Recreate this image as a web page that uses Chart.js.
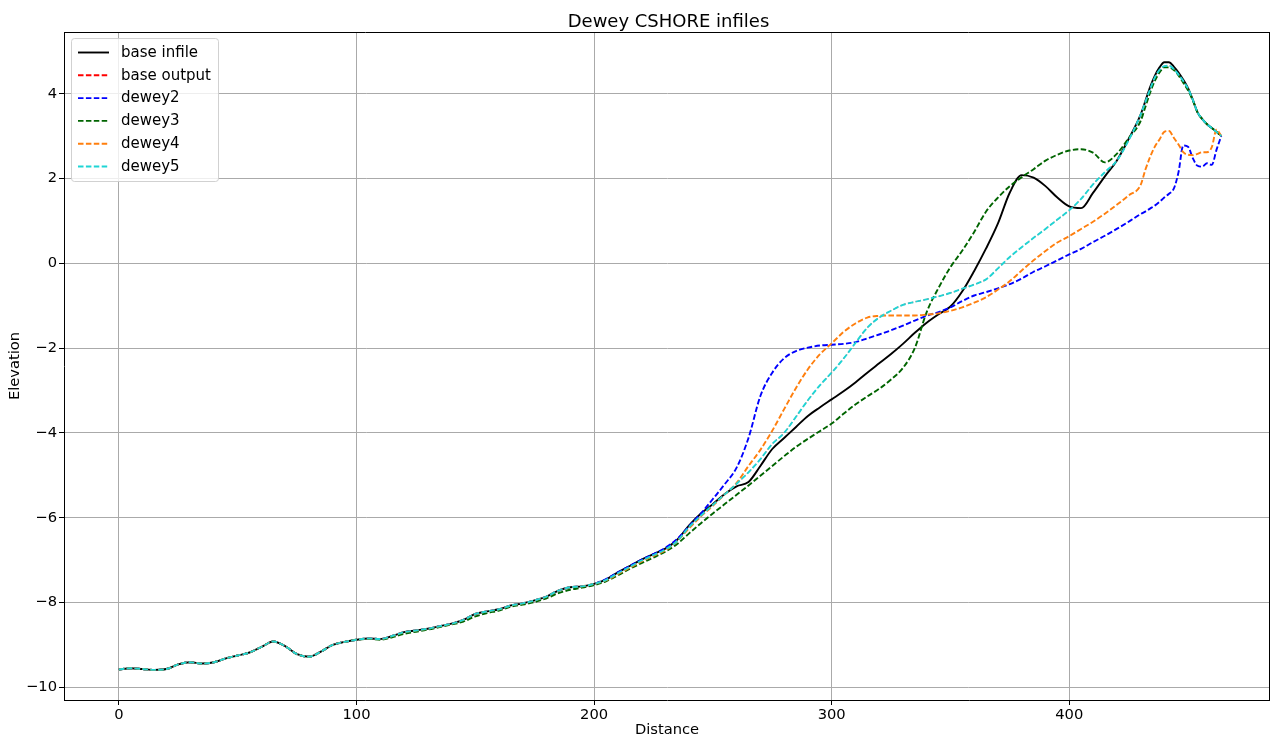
<!DOCTYPE html>
<html>
<head>
<meta charset="utf-8">
<title>Dewey CSHORE infiles</title>
<script src="https://cdn.jsdelivr.net/npm/chart.js@4.4.1/dist/chart.umd.min.js"></script>
<style>
  html, body { margin: 0; padding: 0; background: #ffffff; }
  canvas { display: block; }
</style>
</head>
<body>
<canvas id="profile" width="1270" height="739"></canvas>
<script>
// Cross-shore distance of each profile station
const distance = [
  0, 5, 10, 15, 20, 25, 30, 35, 40, 45, 50, 55, 60, 65, 70, 75, 80, 85, 90, 95,
  100, 105, 110, 115, 120, 125, 130, 135, 140, 145, 150, 155, 160, 165, 170, 175, 180, 185, 190, 195,
  200, 205, 210, 215, 220, 225, 230, 235, 240, 245, 250, 255, 260, 265, 270, 275, 280, 285, 290, 295,
  300, 305, 310, 315, 320, 325, 330, 335, 340, 345, 350, 355, 360, 365, 370, 375, 380, 385, 390, 395,
  400, 405, 410, 415, 420, 425, 430,
  432, 434, 436, 438, 440, 442, 444, 446, 448, 450, 452, 454, 456, 458, 460, 462, 464
];

// Elevations at each station
const baseInfile = [
  -9.58, -9.55, -9.57, -9.59, -9.57, -9.46, -9.41, -9.44, -9.41, -9.32, -9.25, -9.18, -9.05, -8.92, -9.03, -9.22, -9.28, -9.16, -9.00, -8.93,
  -8.88, -8.85, -8.86, -8.79, -8.70, -8.66, -8.62, -8.56, -8.50, -8.41, -8.27, -8.21, -8.16, -8.07, -8.02, -7.95, -7.86, -7.72, -7.64, -7.62,
  -7.56, -7.46, -7.29, -7.14, -6.99, -6.86, -6.73, -6.52, -6.18, -5.90, -5.68, -5.44, -5.26, -5.16, -4.78, -4.38, -4.12, -3.86, -3.60, -3.40,
  -3.21, -3.02, -2.81, -2.58, -2.36, -2.14, -1.90, -1.64, -1.40, -1.20, -1.02, -0.66, -0.18, 0.35, 0.94, 1.67, 2.08, 2.02, 1.82, 1.55,
  1.34, 1.30, 1.66, 2.05, 2.42, 2.93, 3.50,
  3.82, 4.15, 4.42, 4.62, 4.74, 4.74, 4.64, 4.50, 4.33, 4.13, 3.86, 3.56, 3.40, 3.28, 3.19, 3.10, 3.00
];

const dewey2 = [
  -9.58, -9.55, -9.57, -9.59, -9.57, -9.46, -9.41, -9.44, -9.41, -9.32, -9.25, -9.18, -9.05, -8.92, -9.03, -9.22, -9.28, -9.16, -9.00, -8.93,
  -8.88, -8.85, -8.86, -8.79, -8.70, -8.66, -8.62, -8.56, -8.50, -8.41, -8.27, -8.21, -8.16, -8.07, -8.02, -7.95, -7.86, -7.72, -7.64, -7.62,
  -7.56, -7.45, -7.29, -7.14, -6.99, -6.86, -6.71, -6.50, -6.20, -5.90, -5.56, -5.21, -4.82, -4.12, -3.13, -2.58, -2.24, -2.07, -1.99, -1.94,
  -1.92, -1.90, -1.86, -1.77, -1.68, -1.58, -1.47, -1.35, -1.24, -1.15, -1.04, -0.89, -0.76, -0.68, -0.59, -0.49, -0.36, -0.20, -0.07, 0.07,
  0.21, 0.34, 0.50, 0.65, 0.81, 0.98, 1.16,
  1.22, 1.29, 1.36, 1.45, 1.55, 1.64, 1.76, 2.15, 2.78, 2.75, 2.48, 2.30, 2.28, 2.36, 2.32, 2.68, 3.00
];

const dewey3 = [
  -9.58, -9.55, -9.57, -9.59, -9.57, -9.46, -9.41, -9.44, -9.41, -9.32, -9.25, -9.18, -9.05, -8.92, -9.03, -9.22, -9.28, -9.16, -9.00, -8.93,
  -8.88, -8.86, -8.88, -8.82, -8.74, -8.69, -8.64, -8.58, -8.52, -8.45, -8.33, -8.25, -8.19, -8.10, -8.05, -7.99, -7.90, -7.78, -7.70, -7.65,
  -7.59, -7.50, -7.36, -7.21, -7.07, -6.94, -6.80, -6.62, -6.37, -6.13, -5.90, -5.68, -5.46, -5.24, -5.01, -4.78, -4.55, -4.33, -4.14, -3.96,
  -3.78, -3.55, -3.33, -3.14, -2.96, -2.74, -2.47, -2.00, -1.15, -0.58, -0.09, 0.30, 0.74, 1.22, 1.55, 1.82, 2.03, 2.22, 2.42, 2.56,
  2.66, 2.69, 2.61, 2.38, 2.58, 2.95, 3.35,
  3.68, 4.02, 4.30, 4.50, 4.62, 4.62, 4.56, 4.43, 4.26, 4.08, 3.84, 3.56, 3.40, 3.28, 3.19, 3.10, 3.00
];

const dewey4 = [
  -9.58, -9.55, -9.57, -9.59, -9.57, -9.46, -9.41, -9.44, -9.41, -9.32, -9.25, -9.18, -9.05, -8.92, -9.03, -9.22, -9.28, -9.16, -9.00, -8.93,
  -8.88, -8.85, -8.86, -8.79, -8.70, -8.66, -8.62, -8.56, -8.50, -8.41, -8.27, -8.21, -8.16, -8.07, -8.02, -7.95, -7.86, -7.72, -7.64, -7.62,
  -7.56, -7.48, -7.33, -7.18, -7.03, -6.90, -6.77, -6.55, -6.25, -5.97, -5.72, -5.45, -5.18, -4.78, -4.40, -3.95, -3.44, -2.94, -2.50, -2.15,
  -1.89, -1.62, -1.42, -1.28, -1.24, -1.23, -1.23, -1.23, -1.21, -1.18, -1.12, -1.04, -0.93, -0.80, -0.62, -0.42, -0.17, 0.07, 0.29, 0.49,
  0.64, 0.81, 0.98, 1.17, 1.38, 1.60, 1.84,
  2.20, 2.50, 2.75, 2.92, 3.10, 3.12, 2.96, 2.80, 2.62, 2.56, 2.55, 2.58, 2.62, 2.62, 2.74, 3.15, 3.00
];

const dewey5 = [
  -9.58, -9.55, -9.57, -9.59, -9.57, -9.46, -9.41, -9.44, -9.41, -9.32, -9.25, -9.18, -9.05, -8.92, -9.03, -9.22, -9.28, -9.16, -9.00, -8.93,
  -8.88, -8.85, -8.86, -8.79, -8.70, -8.66, -8.62, -8.56, -8.50, -8.41, -8.27, -8.21, -8.16, -8.07, -8.02, -7.95, -7.86, -7.72, -7.64, -7.62,
  -7.56, -7.47, -7.31, -7.16, -7.01, -6.88, -6.75, -6.55, -6.22, -5.95, -5.70, -5.45, -5.20, -4.93, -4.62, -4.26, -4.00, -3.62, -3.23, -2.88,
  -2.58, -2.25, -1.88, -1.52, -1.28, -1.12, -0.98, -0.91, -0.85, -0.78, -0.70, -0.60, -0.50, -0.38, -0.12, 0.15, 0.38, 0.60, 0.81, 1.03,
  1.25, 1.52, 1.86, 2.15, 2.42, 2.90, 3.50,
  3.80, 4.10, 4.38, 4.56, 4.65, 4.66, 4.58, 4.45, 4.30, 4.12, 3.86, 3.56, 3.40, 3.28, 3.19, 3.10, 3.00
];

// The model output for the base case reproduces the dewey5 profile
const baseOutput = dewey5;

const xTickValues = [0, 100, 200, 300, 400];
const yTickValues = [-10, -8, -6, -4, -2, 0, 2, 4];

const FONT = "'DejaVu Sans', 'Liberation Sans', sans-serif";
const DASH = [5.5, 2.4];
const LINE_WIDTH = 1.9;

function points(ys) {
  return distance.map((d, i) => ({ x: d, y: ys[i] }));
}

function series(label, ys, color, dashed, order, width) {
  return {
    label: label,
    data: points(ys),
    borderColor: color,
    backgroundColor: color,
    borderWidth: width || LINE_WIDTH,
    borderDash: dashed ? DASH : [],
    pointRadius: 0,
    fill: false,
    cubicInterpolationMode: 'monotone',
    order: order
  };
}

function fmtTick(v) {
  return v < 0 ? '\u2212' + Math.abs(v) : String(v);
}

// Title, top/right frame edges and in-axes legend
const decorations = {
  id: 'decorations',
  afterDraw(chart) {
    const ctx = chart.ctx;
    const a = chart.chartArea;
    ctx.save();

    // frame top and right
    ctx.strokeStyle = '#000000';
    ctx.lineWidth = 1;
    ctx.beginPath();
    ctx.moveTo(a.left, Math.round(a.top) + 0.5);
    ctx.lineTo(a.right, Math.round(a.top) + 0.5);
    ctx.moveTo(Math.round(a.right) - 0.5, a.top);
    ctx.lineTo(Math.round(a.right) - 0.5, a.bottom);
    ctx.stroke();

    // title
    ctx.fillStyle = '#000000';
    ctx.font = '18px ' + FONT;
    ctx.textAlign = 'center';
    ctx.textBaseline = 'alphabetic';
    ctx.fillText('Dewey CSHORE infiles', (a.left + a.right) / 2 + 1.5, 26.5);

    // legend
    const bx = 71.5, by = 38.5, bw = 147, bh = 143, r = 3;
    ctx.beginPath();
    ctx.moveTo(bx + r, by);
    ctx.lineTo(bx + bw - r, by);
    ctx.arcTo(bx + bw, by, bx + bw, by + r, r);
    ctx.lineTo(bx + bw, by + bh - r);
    ctx.arcTo(bx + bw, by + bh, bx + bw - r, by + bh, r);
    ctx.lineTo(bx + r, by + bh);
    ctx.arcTo(bx, by + bh, bx, by + bh - r, r);
    ctx.lineTo(bx, by + r);
    ctx.arcTo(bx, by, bx + r, by, r);
    ctx.closePath();
    ctx.fillStyle = 'rgba(255,255,255,0.8)';
    ctx.fill();
    ctx.strokeStyle = 'rgba(204,204,204,0.9)';
    ctx.lineWidth = 1;
    ctx.stroke();

    ctx.font = '15px ' + FONT;
    ctx.textAlign = 'left';
    ctx.textBaseline = 'middle';
    chart.data.datasets.forEach((ds, i) => {
      const y = 52.5 + i * 22.8;
      ctx.strokeStyle = ds.borderColor;
      ctx.lineWidth = LINE_WIDTH;
      ctx.setLineDash(ds.borderDash);
      ctx.beginPath();
      ctx.moveTo(78, y);
      ctx.lineTo(109, y);
      ctx.stroke();
      ctx.setLineDash([]);
      ctx.fillStyle = '#000000';
      ctx.fillText(ds.label, 121, y + 0.5);
    });
    ctx.restore();
  }
};

new Chart(document.getElementById('profile'), {
  type: 'line',
  data: {
    datasets: [
      series('base infile', baseInfile, '#000000', false, 5),
      // drawn thinner so it stays fully beneath the identical dewey5 trace
      series('base output', baseOutput, '#ff0000', true, 4, 1.0),
      series('dewey2', dewey2, '#0000ff', true, 3),
      series('dewey3', dewey3, '#006400', true, 2),
      series('dewey4', dewey4, '#ff7f0e', true, 1),
      series('dewey5', dewey5, '#1fd5d5', true, 0)
    ]
  },
  options: {
    responsive: false,
    animation: false,
    devicePixelRatio: 1,
    layout: { padding: { top: 32, right: 0, bottom: 0, left: 0 } },
    plugins: {
      legend: { display: false },
      title: { display: false },
      tooltip: { enabled: false }
    },
    scales: {
      x: {
        type: 'linear',
        min: -23.1,
        max: 484.5,
        afterFit(scale) { scale.height = 39; },
        afterBuildTicks(scale) { scale.ticks = xTickValues.map(v => ({ value: v })); },
        ticks: {
          color: '#000000',
          font: { family: FONT, size: 14.7 },
          padding: 1,
          maxRotation: 0,
          callback: fmtTick
        },
        grid: { color: '#aaaaaa', lineWidth: 1, tickLength: 5, tickColor: '#000000' },
        border: { color: '#000000', width: 1 },
        title: {
          display: true,
          text: 'Distance',
          color: '#000000',
          font: { family: FONT, size: 14.7 },
          padding: { top: 0, bottom: 0 }
        }
      },
      y: {
        type: 'linear',
        min: -10.30,
        max: 5.455,
        afterFit(scale) { scale.width = 64; },
        afterBuildTicks(scale) { scale.ticks = yTickValues.map(v => ({ value: v })); },
        ticks: {
          color: '#000000',
          font: { family: FONT, size: 14.7 },
          padding: 2,
          callback: fmtTick
        },
        grid: { color: '#aaaaaa', lineWidth: 1, tickLength: 5, tickColor: '#000000' },
        border: { color: '#000000', width: 1 },
        title: {
          display: true,
          text: 'Elevation',
          color: '#000000',
          font: { family: FONT, size: 14.7 },
          padding: { top: 6, bottom: 0 }
        }
      }
    }
  },
  plugins: [decorations]
});
</script>
</body>
</html>
